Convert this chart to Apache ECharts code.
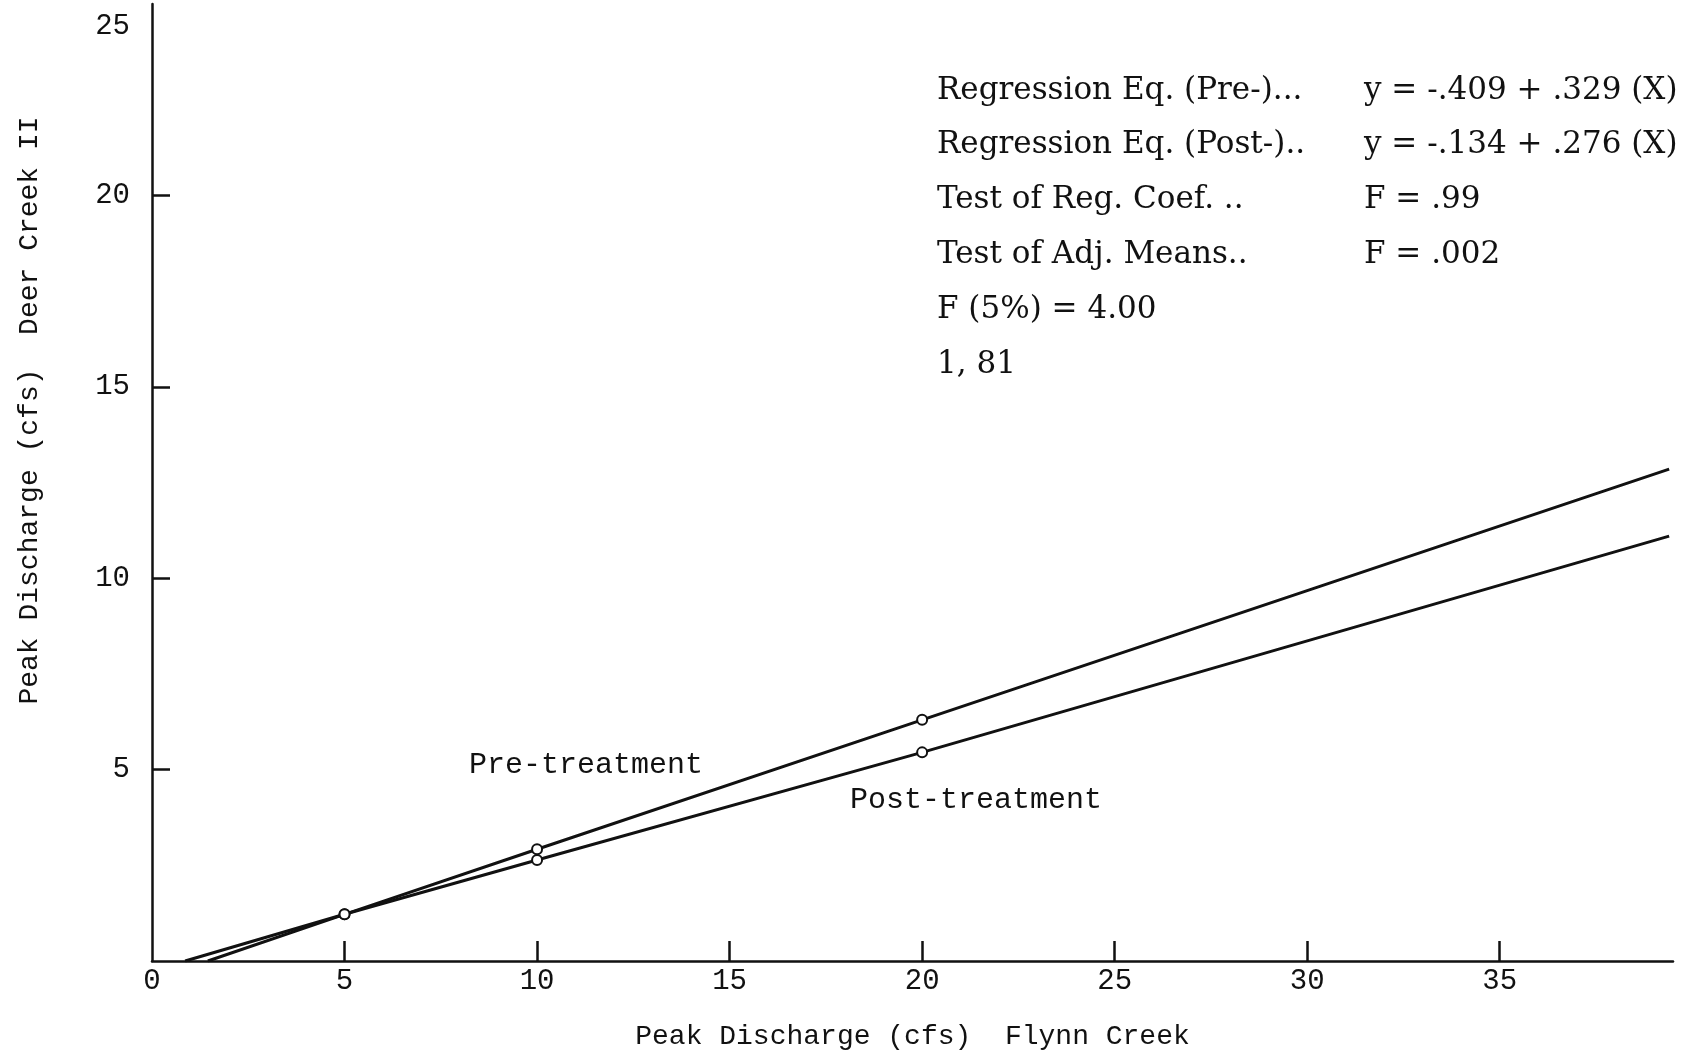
<!DOCTYPE html>
<html>
<head>
<meta charset="utf-8">
<title>Peak discharge regression</title>
<script src="https://cdn.jsdelivr.net/npm/echarts@6/dist/echarts.min.js"></script>
<style>
    html, body { margin: 0; padding: 0; background: #fff; }
    #chart { width: 1691px; height: 1056px; }
</style>
</head>
<body>
<div id="chart"></div>
<script>
    // values (cfs)
    var preX = [1.45, 5, 10, 20, 39.4];
    var preY = [0, 1.22, 2.92, 6.3, 12.85];
    var postX = [0.86, 5, 10, 20, 39.4];
    var postY = [0, 1.22, 2.64, 5.45, 11.1];
    var markedIdx = [1, 2, 3]; // points drawn with an open circle

    var xTicks = [5, 10, 15, 20, 25, 30, 35];
    var xLabels = [0, 5, 10, 15, 20, 25, 30, 35];
    var yTicks = [5, 10, 15, 20];
    var yLabels = [5, 10, 15, 20, 25];

    var statsLeft = [
        'Regression Eq. (Pre-)...',
        'Regression Eq. (Post-)..',
        'Test of Reg. Coef. ..',
        'Test of Adj. Means..',
        'F (5%) = 4.00',
        '1, 81'
    ];
    var statsRight = [
        'y = -.409 + .329 (X)',
        'y = -.134 + .276 (X)',
        'F = .99',
        'F = .002',
        '',
        ''
    ];

    var MONO = 'Liberation Mono';
    var SERIF = 'DejaVu Serif';
    var INK = '#111';

    function toPoints(xs, ys) {
        return xs.map(function (x, i) {
            var on = markedIdx.indexOf(i) >= 0;
            return { value: [x, ys[i]], symbol: on ? 'emptyCircle' : 'none' };
        });
    }

    function txt(left, top, text, family, size) {
        return {
            type: 'text', left: left, top: top,
            style: { text: text, fill: INK, fontFamily: family, fontSize: size }
        };
    }

    var graphics = [];
    statsLeft.forEach(function (t, i) {
        var top = 75 + i * 54.8;
        graphics.push(txt(937, top, t, SERIF, 31));
        if (statsRight[i]) graphics.push(txt(1364, top, statsRight[i], SERIF, 31));
    });
    graphics.push(txt(469, 750, 'Pre-treatment', MONO, 30));
    graphics.push(txt(850, 785, 'Post-treatment', MONO, 30));

    var chart = echarts.init(document.getElementById('chart'));
    var option = {
        backgroundColor: '#fff',
        animation: false,
        grid: { left: 152, right: 18, top: 4, bottom: 93 },
        xAxis: {
            type: 'value',
            min: 0,
            max: 39.5,
            name: 'Peak Discharge (cfs)  Flynn Creek',
            nameLocation: 'middle',
            nameGap: 62,
            nameTextStyle: { fontFamily: MONO, fontSize: 28, color: INK },
            axisLine: { lineStyle: { color: INK, width: 2.5 } },
            axisTick: { inside: true, length: 20, customValues: xTicks, lineStyle: { color: INK, width: 2.5 } },
            axisLabel: { customValues: xLabels, margin: 6, fontFamily: MONO, fontSize: 29, color: INK },
            splitLine: { show: false }
        },
        yAxis: {
            type: 'value',
            min: 0,
            max: 25,
            name: 'Peak Discharge (cfs)  Deer Creek II',
            nameLocation: 'middle',
            nameRotate: 90,
            nameGap: 108,
            nameTextStyle: { fontFamily: MONO, fontSize: 28, color: INK, padding: [0, 0, 0, 144] },
            axisLine: { lineStyle: { color: INK, width: 2.5 } },
            axisTick: { inside: true, length: 18, customValues: yTicks, lineStyle: { color: INK, width: 2.5 } },
            axisLabel: {
                customValues: yLabels, margin: 22, fontFamily: MONO, fontSize: 29, color: INK,
                verticalAlignMaxLabel: 'top', padding: [8, 0, 0, 0]
            },
            splitLine: { show: false }
        },
        graphic: graphics,
        series: [
            {
                name: 'Pre-treatment',
                type: 'line',
                data: toPoints(preX, preY),
                symbolSize: 10,
                lineStyle: { color: INK, width: 3 },
                itemStyle: { color: INK, borderColor: INK, borderWidth: 2 }
            },
            {
                name: 'Post-treatment',
                type: 'line',
                data: toPoints(postX, postY),
                symbolSize: 10,
                lineStyle: { color: INK, width: 3 },
                itemStyle: { color: INK, borderColor: INK, borderWidth: 2 }
            }
        ]
    };
    chart.setOption(option);
</script>
</body>
</html>
